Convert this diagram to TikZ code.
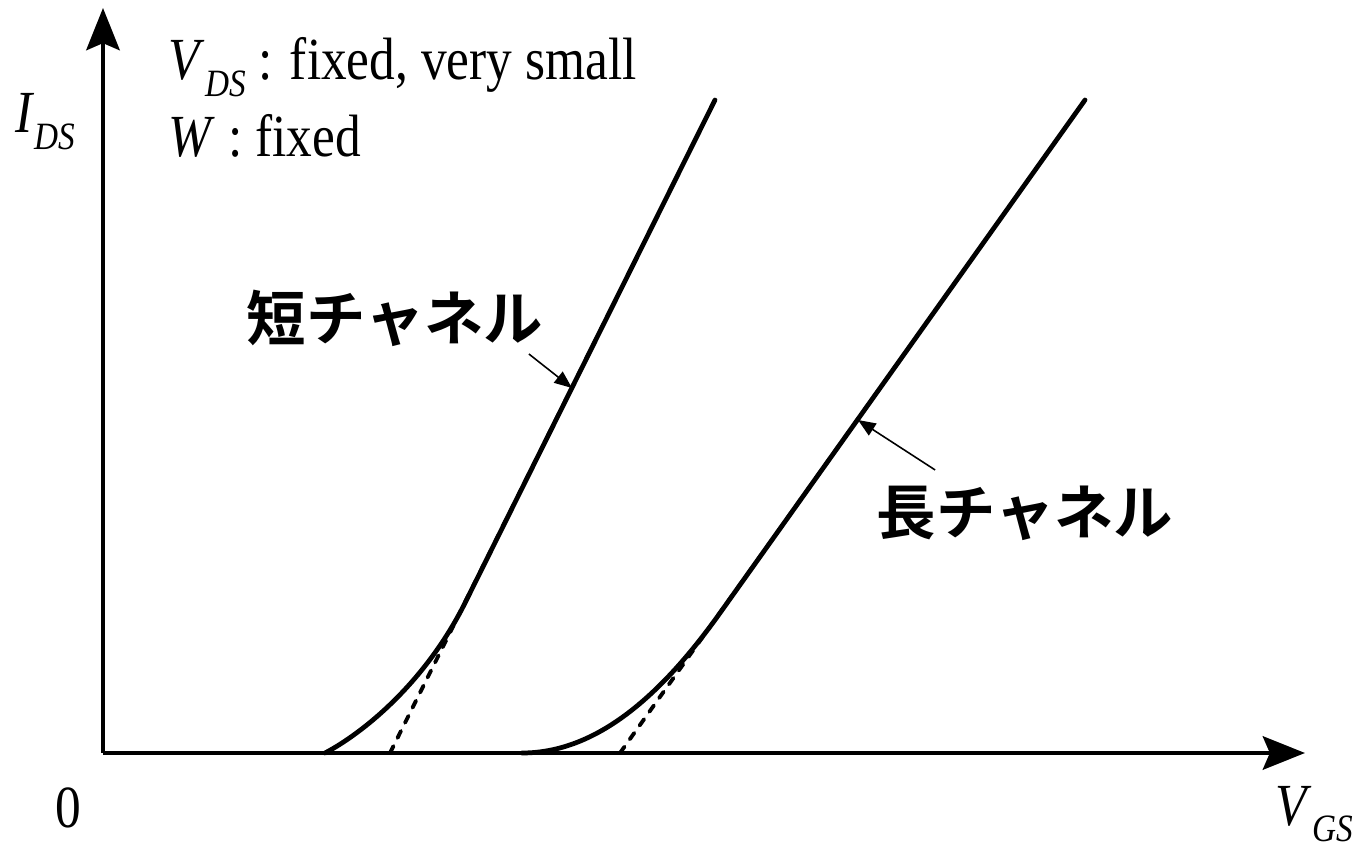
\documentclass[tikz,border=0pt]{standalone}
\usepackage{fontspec}
\setmainfont{Liberation Serif}[FakeStretch=0.86]
\newfontfamily\jpfont{Noto Sans CJK JP}[BoldFont={* Bold}]
\usetikzlibrary{arrows.meta}
\newcommand{\lowsub}[1]{\raisebox{-0.28em}{\fontsize{11}{11}\selectfont\itshape #1}}
\begin{document}
\begin{tikzpicture}[
  axis/.style={line width=1.3pt,-{Stealth[length=12pt,width=9.5pt,inset=2pt]}},
  curve/.style={line width=1.35pt,line cap=round},
  tangent/.style={line width=1.1pt,line cap=round,dash pattern=on 2.2pt off 2.6pt},
  pointer/.style={line width=0.45pt,-{Triangle[length=5pt,width=4pt]}},
  jplabel/.style={font=\jpfont\bfseries\fontsize{16.9}{18}\selectfont,inner sep=0pt},
  txt/.style={font=\fontsize{17}{18}\selectfont,inner sep=0pt}]
\useasboundingbox (-1.03,-0.93) rectangle (12.51,7.53);
\coordinate (origin) at (0,0);
\coordinate (ytip) at (0,7.45);
\coordinate (xtip) at (12.02,0);
\draw [axis] (origin) -- (ytip);
\draw [axis] (origin) -- (xtip);
\node [txt,anchor=base west] (ylabel) at (-0.88,6.2) {\textit{I}\lowsub{DS}};
\node [txt,anchor=base west] (xlabel) at (11.72,-0.72) {\textit{V}\lowsub{GS}};
\node [txt] (zero) at (-0.35,-0.55) {0};
\node [txt,anchor=base west] (cond1) at (0.65,6.73) {\textit{V}\lowsub{DS} : fixed, very small};
\node [txt,anchor=base west] (cond2) at (0.65,5.96) {\textit{W} : fixed};
\draw [curve] (2.22,0) .. controls (2.6,0.2) and (3.22,0.7) .. (3.62,1.5) -- (6.12,6.53);
\draw [tangent] (2.87,0) -- (5.05,4.38);
\draw [curve] (4.19,0) .. controls (4.95,0) and (5.6,0.6) .. (6.17,1.4) -- (9.82,6.53);
\draw [tangent] (5.17,0) -- (8.02,4.00);
\coordinate (shortpt) at (4.69,3.65);
\coordinate (longpt) at (7.55,3.33);
\node [jplabel] (shortlbl) at (2.92,4.35) {短チャネル};
\node [jplabel] (longlbl) at (9.22,2.40) {長チャネル};
\draw [pointer] ([xshift=-0.15cm,yshift=-0.07cm]shortlbl.south east) -- (shortpt);
\draw [pointer] ([xshift=0.59cm,yshift=0.15cm]longlbl.north west) -- (longpt);
\end{tikzpicture}
\end{document}
